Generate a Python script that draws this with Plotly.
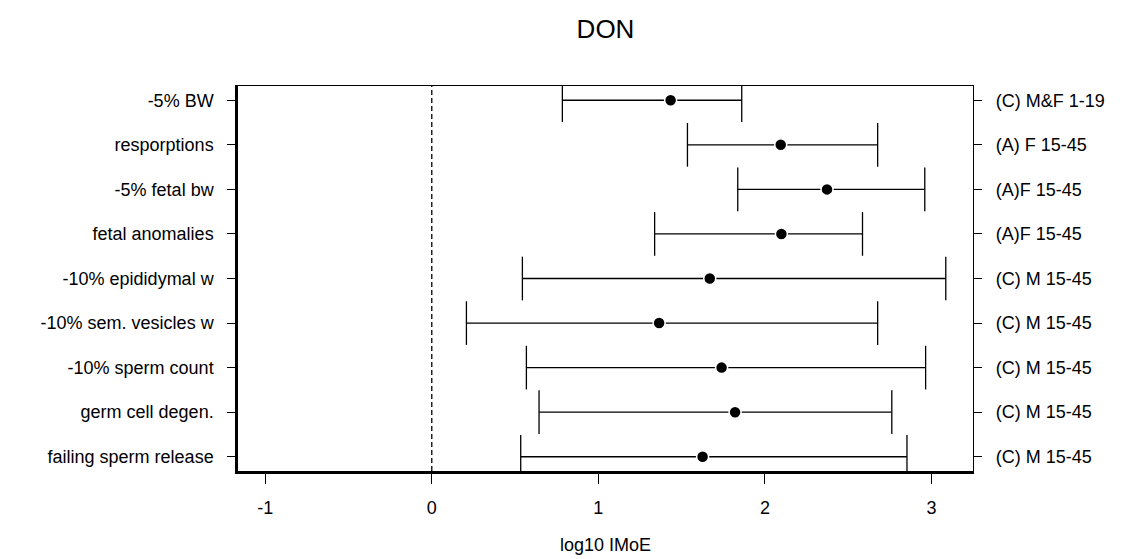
import plotly.graph_objects as go

# ---- data ----
endpoints = ["-5% BW", "resporptions", "-5% fetal bw", "fetal anomalies",
             "-10% epididymal w", "-10% sem. vesicles w", "-10% sperm count",
             "germ cell degen.", "failing sperm release"]
groups = ["(C) M&F 1-19", "(A) F 15-45", "(A)F 15-45", "(A)F 15-45",
          "(C) M 15-45", "(C) M 15-45", "(C) M 15-45", "(C) M 15-45", "(C) M 15-45"]
estimate = [1.434, 2.095, 2.373, 2.099, 1.669, 1.365, 1.740, 1.821, 1.626]
lower = [0.784, 1.535, 1.837, 1.338, 0.544, 0.208, 0.568, 0.644, 0.534]
upper = [1.861, 2.677, 2.960, 2.586, 3.086, 2.677, 2.965, 2.762, 2.853]
x_ticks = [-1, 0, 1, 2, 3]

rows = list(range(1, len(endpoints) + 1))
cap = 0.49

# build error-bar segments from the data
seg_x, seg_y = [], []
for r, lo, hi in zip(rows, lower, upper):
    seg_x += [lo, hi, None, lo, lo, None, hi, hi, None]
    seg_y += [r, r, None, r - cap, r + cap, None, r - cap, r + cap, None]

xmin = min(x_ticks)
xmax = max(upper)
pad = 0.04 * (xmax - xmin)
xr = [xmin - pad, xmax + pad]
yr = [len(rows) + 0.32, 1 - 0.32]

font = dict(family="Liberation Sans, Arial, sans-serif", size=18, color="black")

fig = go.Figure()
fig.add_trace(go.Scatter(x=seg_x, y=seg_y, mode="lines",
                         line=dict(color="black", width=1.3),
                         hoverinfo="skip", showlegend=False))
fig.add_trace(go.Scatter(x=estimate, y=rows, mode="markers",
                         marker=dict(color="black", size=12,
                                     line=dict(color="white", width=1.5)),
                         showlegend=False))
# dummy trace to activate the mirrored axes (top / right)
fig.add_trace(go.Scatter(x=estimate, y=rows, xaxis="x2", yaxis="y2",
                         mode="markers", marker=dict(opacity=0),
                         hoverinfo="skip", showlegend=False))

fig.add_shape(type="line", x0=0, x1=0, y0=0, y1=1, xref="x", yref="paper",
              line=dict(color="black", width=1.3, dash="5px,3px"))

fig.update_layout(
    width=1130, height=559,
    margin=dict(l=238, r=157, t=86, b=88, autoexpand=False),
    paper_bgcolor="white", plot_bgcolor="white",
    font=font,
    title=dict(text="DON", x=0.5, xref="paper", xanchor="center",
               y=1 - 29 / 559, yref="container", yanchor="middle",
               font=dict(family="Liberation Sans, Arial, sans-serif", size=26, color="black")),
    xaxis=dict(range=xr, tickvals=x_ticks, ticktext=[str(v) for v in x_ticks],
               showgrid=False, zeroline=False, showline=True, linecolor="black",
               linewidth=2.5, ticks="outside", ticklen=10, tickwidth=1.3,
               tickcolor="black", tickfont=font, ticklabelstandoff=9,
               automargin=False,
               title=dict(text="log10 IMoE", font=font, standoff=22)),
    xaxis2=dict(range=xr, overlaying="x", side="top", showgrid=False,
                zeroline=False, showline=True, linecolor="black", linewidth=1.3,
                ticks="", showticklabels=False, automargin=False),
    yaxis=dict(range=yr, tickvals=rows, ticktext=endpoints, showgrid=False,
               zeroline=False, showline=True, linecolor="black", linewidth=2.5,
               ticks="outside", ticklen=8, tickwidth=1.3, tickcolor="black",
               tickfont=font, ticklabelstandoff=10, automargin=False),
    yaxis2=dict(range=yr, overlaying="y", side="right", tickvals=rows,
                ticktext=groups, showgrid=False, zeroline=False, showline=True,
                linecolor="black", linewidth=1.3, ticks="outside", ticklen=8,
                tickwidth=1.3, tickcolor="black", tickfont=font,
                ticklabelstandoff=10, automargin=False),
)

fig.write_html("out.html")
